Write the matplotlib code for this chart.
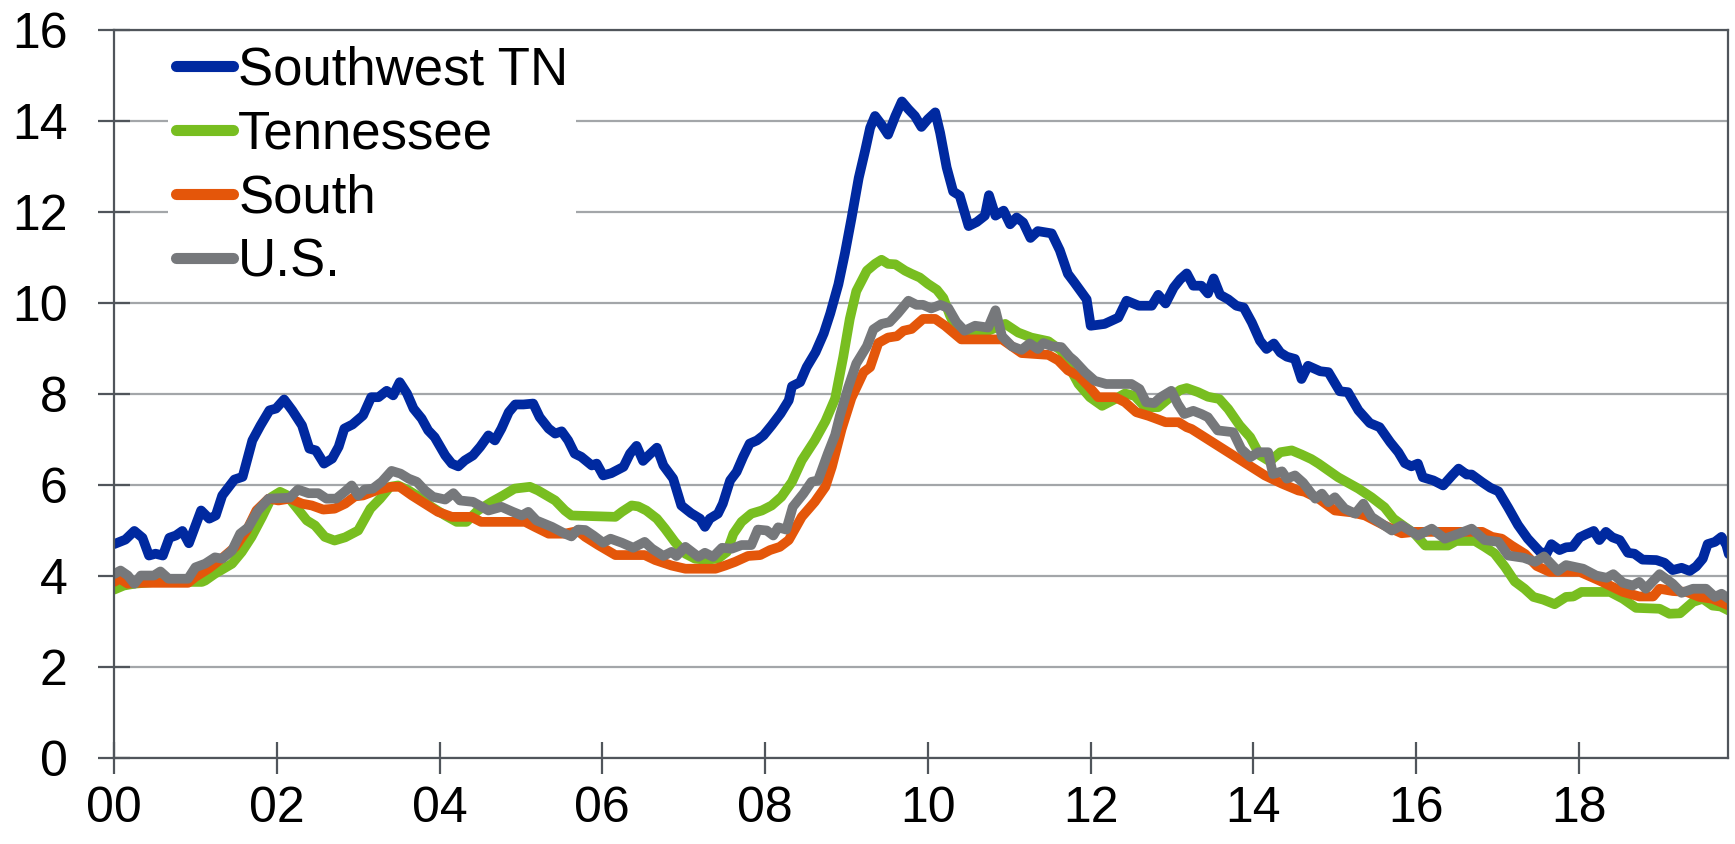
import numpy as np
import matplotlib
matplotlib.use("Agg")
import matplotlib.pyplot as plt

plt.rcParams['font.family'] = ['Liberation Sans', 'DejaVu Sans']

# years since Jan 2000 and values
sw_t = [0.00, 0.14, 0.25, 0.35, 0.43, 0.51, 0.60, 0.68, 0.76, 0.84, 0.92, 1.07, 1.17, 1.25, 1.33,
        1.48, 1.58, 1.70, 1.80, 1.91, 1.99, 2.09, 2.19, 2.31, 2.40, 2.48, 2.58, 2.68, 2.76, 2.83,
        2.93, 3.06, 3.16, 3.25, 3.35, 3.43, 3.51, 3.60, 3.68, 3.78, 3.86, 3.94, 4.07, 4.15, 4.23,
        4.31, 4.41, 4.50, 4.60, 4.68, 4.76, 4.85, 4.93, 5.03, 5.15, 5.23, 5.34, 5.42, 5.50, 5.58,
        5.66, 5.74, 5.87, 5.93, 6.01, 6.11, 6.26, 6.34, 6.42, 6.50, 6.58, 6.67, 6.75, 6.87, 6.97,
        7.09, 7.20, 7.26, 7.32, 7.42, 7.48, 7.57, 7.65, 7.73, 7.81, 7.90, 7.98, 8.08, 8.19, 8.29,
        8.33, 8.43, 8.51, 8.62, 8.72, 8.80, 8.90, 8.98, 9.06, 9.15, 9.23, 9.29, 9.35, 9.43, 9.51,
        9.60, 9.68, 9.76, 9.84, 9.92, 10.00, 10.09, 10.15, 10.23, 10.31, 10.39, 10.50, 10.60, 10.70,
        10.75, 10.83, 10.93, 11.01, 11.09, 11.17, 11.26, 11.35, 11.52, 11.62, 11.72, 11.80, 11.95,
        12.00, 12.17, 12.34, 12.44, 12.59, 12.75, 12.83, 12.92, 13.02, 13.10, 13.18, 13.26, 13.36,
        13.44, 13.51, 13.59, 13.69, 13.79, 13.88, 13.98, 14.08, 14.16, 14.25, 14.33, 14.41, 14.51,
        14.59, 14.67, 14.82, 14.92, 15.06, 15.16, 15.29, 15.43, 15.55, 15.68, 15.78, 15.86, 15.94,
        16.02, 16.08, 16.21, 16.33, 16.44, 16.52, 16.62, 16.68, 16.81, 16.91, 17.01, 17.13, 17.25,
        17.37, 17.52, 17.60, 17.66, 17.76, 17.84, 17.92, 18.01, 18.09, 18.18, 18.25, 18.33, 18.41,
        18.50, 18.60, 18.68, 18.78, 18.95, 19.05, 19.15, 19.26, 19.36, 19.44, 19.52, 19.58, 19.67,
        19.75, 19.81, 19.84]
sw_v = [4.70, 4.80, 4.99, 4.84, 4.45, 4.49, 4.45, 4.84, 4.89, 4.99, 4.72, 5.44, 5.26, 5.33, 5.77,
        6.12, 6.18, 6.98, 7.31, 7.64, 7.68, 7.88, 7.64, 7.31, 6.80, 6.76, 6.47, 6.58, 6.84, 7.24,
        7.33, 7.53, 7.93, 7.93, 8.07, 7.97, 8.26, 8.01, 7.68, 7.46, 7.20, 7.05, 6.65, 6.47, 6.41,
        6.54, 6.65, 6.84, 7.09, 6.98, 7.24, 7.60, 7.77, 7.77, 7.79, 7.49, 7.24, 7.13, 7.18, 6.98,
        6.69, 6.62, 6.43, 6.47, 6.21, 6.26, 6.40, 6.69, 6.86, 6.53, 6.67, 6.82, 6.43, 6.14, 5.55,
        5.38, 5.26, 5.08, 5.26, 5.37, 5.59, 6.10, 6.29, 6.62, 6.91, 6.98, 7.09, 7.31, 7.57, 7.86,
        8.17, 8.26, 8.59, 8.92, 9.33, 9.77, 10.41, 11.09, 11.85, 12.75, 13.36, 13.85, 14.11, 13.92, 13.70,
        14.11, 14.43, 14.26, 14.11, 13.87, 14.04, 14.19, 13.74, 12.98, 12.45, 12.36, 11.69, 11.78, 11.92,
        12.37, 11.92, 12.03, 11.73, 11.88, 11.77, 11.43, 11.58, 11.53, 11.16, 10.64, 10.45, 10.08,
        9.50, 9.54, 9.68, 10.05, 9.94, 9.94, 10.18, 9.99, 10.34, 10.52, 10.65, 10.38, 10.38,
        10.21, 10.54, 10.18, 10.08, 9.94, 9.90, 9.57, 9.17, 8.99, 9.11, 8.91, 8.82, 8.77,
        8.33, 8.62, 8.50, 8.48, 8.06, 8.04, 7.64, 7.36, 7.27, 6.94, 6.72, 6.48, 6.41,
        6.47, 6.17, 6.10, 5.99, 6.21, 6.36, 6.23, 6.23, 6.06, 5.94, 5.86, 5.50, 5.12,
        4.82, 4.53, 4.49, 4.70, 4.57, 4.63, 4.64, 4.85, 4.92, 4.99, 4.79, 4.97, 4.85,
        4.79, 4.51, 4.49, 4.36, 4.35, 4.29, 4.13, 4.18, 4.11, 4.21, 4.38, 4.70, 4.75,
        4.86, 4.68, 4.48]

tn_t = [0.00, 0.12, 0.25, 0.50, 1.08, 1.12, 1.24, 1.45, 1.57, 1.69, 1.82, 1.94, 2.04, 2.12, 2.25,
        2.37, 2.47, 2.59, 2.71, 2.84, 3.00, 3.15, 3.27, 3.39, 3.49, 3.62, 3.72, 3.90, 4.07, 4.21,
        4.33, 4.47, 4.64, 4.78, 4.92, 5.11, 5.21, 5.42, 5.54, 5.62, 6.16, 6.24, 6.36, 6.44, 6.54,
        6.67, 6.77, 6.89, 7.02, 7.14, 7.26, 7.42, 7.53, 7.61, 7.71, 7.83, 7.96, 8.08, 8.20, 8.33,
        8.45, 8.61, 8.74, 8.86, 8.96, 9.04, 9.12, 9.25, 9.35, 9.43, 9.51, 9.60, 9.72, 9.80, 9.90,
        10.00, 10.11, 10.19, 10.27, 10.37, 10.62, 10.74, 10.95, 11.11, 11.27, 11.48, 11.64, 11.75,
        11.85, 11.99, 12.14, 12.30, 12.42, 12.54, 12.67, 12.83, 12.95, 13.10, 13.18, 13.32, 13.44,
        13.58, 13.69, 13.83, 13.96, 14.08, 14.20, 14.33, 14.47, 14.59, 14.71, 14.80, 15.04, 15.29,
        15.45, 15.61, 15.72, 15.86, 15.98, 16.11, 16.39, 16.49, 16.72, 16.84, 16.96, 17.09, 17.21,
        17.33, 17.44, 17.56, 17.70, 17.84, 17.93, 18.03, 18.38, 18.54, 18.70, 18.99, 19.11, 19.24,
        19.40, 19.52, 19.64, 19.74, 19.84]
tn_v = [3.70, 3.79, 3.83, 3.87, 3.87, 3.90, 4.05, 4.27, 4.53, 4.86, 5.30, 5.74, 5.85, 5.78, 5.49,
        5.22, 5.11, 4.86, 4.78, 4.85, 5.00, 5.48, 5.70, 5.96, 5.99, 5.88, 5.77, 5.52, 5.33, 5.19,
        5.19, 5.44, 5.63, 5.77, 5.92, 5.96, 5.88, 5.66, 5.44, 5.33, 5.30, 5.41, 5.55, 5.53, 5.44,
        5.26, 5.04, 4.75, 4.49, 4.38, 4.36, 4.38, 4.53, 4.93, 5.19, 5.37, 5.44, 5.55, 5.74, 6.07,
        6.54, 6.98, 7.40, 7.90, 8.82, 9.65, 10.26, 10.71, 10.86, 10.95, 10.86, 10.85, 10.71, 10.64, 10.56,
        10.42, 10.29, 10.11, 9.73, 9.35, 9.35, 9.39, 9.54, 9.35, 9.24, 9.16, 8.95, 8.55,
        8.22, 7.93, 7.74, 7.89, 8.01, 7.96, 7.71, 7.71, 7.89, 8.09, 8.13, 8.04, 7.94,
        7.89, 7.67, 7.31, 7.05, 6.65, 6.52, 6.72, 6.76, 6.67, 6.57, 6.47, 6.17, 5.92,
        5.73, 5.51, 5.26, 5.08, 4.93, 4.67, 4.67, 4.77, 4.77, 4.64, 4.50, 4.20, 3.88,
        3.72, 3.54, 3.48, 3.38, 3.54, 3.55, 3.65, 3.65, 3.50, 3.30, 3.28, 3.17, 3.18,
        3.43, 3.50, 3.35, 3.33, 3.24]

south_t = [0.00, 0.07, 0.17, 0.25, 0.91, 1.00, 1.16, 1.32, 1.49, 1.63, 1.75, 1.90, 2.02, 2.16, 2.31,
           2.43, 2.57, 2.71, 2.84, 2.96, 3.06, 3.25, 3.41, 3.51, 3.66, 3.82, 3.98, 4.15, 4.39, 4.51,
           5.05, 5.17, 5.34, 5.54, 5.70, 5.79, 5.95, 6.16, 6.52, 6.65, 6.85, 7.02, 7.39, 7.51, 7.63,
           7.79, 7.94, 8.06, 8.18, 8.29, 8.45, 8.61, 8.74, 8.82, 8.94, 9.06, 9.21, 9.29, 9.39, 9.51,
           9.62, 9.70, 9.80, 9.94, 10.09, 10.21, 10.41, 10.91, 11.15, 11.48, 11.60, 11.72, 11.85,
           11.97, 12.09, 12.30, 12.42, 12.56, 12.71, 12.92, 13.08, 13.18, 13.24, 14.14, 14.35, 14.55,
           14.63, 14.80, 15.00, 15.20, 15.37, 15.61, 15.82, 15.98, 16.27, 16.81, 16.93, 17.05, 17.17,
           17.34, 17.48, 17.64, 18.01, 18.25, 18.54, 18.74, 18.91, 18.99, 19.15, 19.32, 19.48, 19.64,
           19.84]
south_v = [3.87, 3.94, 3.83, 3.85, 3.85, 3.98, 4.16, 4.38, 4.64, 5.00, 5.44, 5.70, 5.66, 5.70, 5.59,
           5.55, 5.46, 5.48, 5.59, 5.75, 5.77, 5.90, 5.96, 5.96, 5.77, 5.59, 5.41, 5.30, 5.30, 5.19,
           5.19, 5.08, 4.93, 4.93, 4.99, 4.86, 4.68, 4.46, 4.46, 4.35, 4.23, 4.16, 4.16, 4.23, 4.31,
           4.44, 4.46, 4.57, 4.64, 4.79, 5.30, 5.63, 5.96, 6.40, 7.23, 7.91, 8.48, 8.59, 9.12, 9.24,
           9.27, 9.39, 9.43, 9.65, 9.65, 9.50, 9.20, 9.20, 8.90, 8.86, 8.74, 8.52, 8.40,
           8.18, 7.93, 7.93, 7.82, 7.60, 7.52, 7.38, 7.38, 7.27, 7.23, 6.21, 6.03, 5.88,
           5.85, 5.70, 5.44, 5.40, 5.33, 5.11, 4.94, 4.97, 4.97, 4.97, 4.86, 4.82, 4.67,
           4.48, 4.22, 4.09, 4.09, 3.90, 3.65, 3.55, 3.55, 3.72, 3.67, 3.65, 3.54, 3.50,
           3.35]

us_t = [0.00, 0.08, 0.17, 0.25, 0.33, 0.49, 0.57, 0.67, 0.91, 1.00, 1.12, 1.24, 1.33, 1.45, 1.55,
        1.65, 1.77, 1.90, 2.02, 2.16, 2.26, 2.39, 2.51, 2.61, 2.73, 2.84, 2.92, 3.00, 3.08, 3.18,
        3.29, 3.41, 3.52, 3.62, 3.72, 3.82, 3.92, 4.07, 4.17, 4.25, 4.41, 4.60, 4.76, 4.90, 5.01,
        5.09, 5.19, 5.38, 5.54, 5.62, 5.70, 5.79, 5.89, 6.01, 6.10, 6.24, 6.38, 6.52, 6.61, 6.75,
        6.85, 6.91, 7.02, 7.18, 7.26, 7.36, 7.47, 7.59, 7.71, 7.83, 7.91, 8.02, 8.10, 8.16, 8.26,
        8.34, 8.47, 8.57, 8.65, 8.77, 8.86, 8.92, 9.02, 9.12, 9.25, 9.33, 9.43, 9.53, 9.63, 9.76,
        9.86, 9.94, 10.04, 10.15, 10.25, 10.35, 10.45, 10.58, 10.74, 10.83, 10.91, 11.03, 11.15,
        11.25, 11.35, 11.42, 11.52, 11.64, 11.74, 11.80, 11.93, 12.05, 12.19, 12.50, 12.60, 12.68,
        12.78, 12.86, 12.99, 13.07, 13.15, 13.26, 13.36, 13.44, 13.56, 13.75, 13.85, 13.96, 14.06,
        14.18, 14.24, 14.35, 14.41, 14.51, 14.61, 14.76, 14.84, 14.92, 15.00, 15.12, 15.25, 15.35,
        15.45, 15.70, 15.82, 16.02, 16.19, 16.35, 16.52, 16.68, 16.84, 17.01, 17.13, 17.32, 17.46,
        17.57, 17.74, 17.84, 18.05, 18.21, 18.34, 18.42, 18.54, 18.66, 18.74, 18.82, 18.99, 19.15,
        19.26, 19.40, 19.56, 19.67, 19.75, 19.84]
us_v = [4.04, 4.12, 4.01, 3.83, 4.01, 4.01, 4.10, 3.94, 3.94, 4.19, 4.27, 4.41, 4.38, 4.56, 4.93,
        5.07, 5.44, 5.70, 5.71, 5.72, 5.90, 5.82, 5.82, 5.70, 5.70, 5.86, 5.99, 5.77, 5.90, 5.92,
        6.07, 6.31, 6.25, 6.14, 6.07, 5.88, 5.74, 5.68, 5.82, 5.66, 5.63, 5.44, 5.52, 5.41, 5.33,
        5.41, 5.22, 5.08, 4.93, 4.87, 5.02, 5.01, 4.89, 4.73, 4.82, 4.73, 4.62, 4.75, 4.60, 4.44,
        4.53, 4.44, 4.64, 4.42, 4.51, 4.42, 4.62, 4.60, 4.68, 4.68, 5.02, 5.00, 4.89, 5.07, 5.02,
        5.52, 5.81, 6.07, 6.10, 6.69, 7.10, 7.53, 8.14, 8.67, 9.05, 9.42, 9.54, 9.58, 9.77, 10.05,
        9.96, 9.96, 9.88, 9.96, 9.89, 9.58, 9.39, 9.50, 9.46, 9.84, 9.27, 9.05, 8.97,
        9.11, 8.99, 9.12, 9.05, 9.03, 8.82, 8.73, 8.48, 8.29, 8.22, 8.22, 8.11, 7.82,
        7.80, 7.93, 8.07, 7.78, 7.56, 7.63, 7.56, 7.49, 7.20, 7.16, 6.79, 6.61, 6.72,
        6.72, 6.24, 6.30, 6.14, 6.21, 6.05, 5.70, 5.81, 5.62, 5.73, 5.48, 5.37, 5.59,
        5.30, 5.00, 5.11, 4.89, 5.04, 4.82, 4.93, 5.04, 4.79, 4.75, 4.45, 4.40, 4.31,
        4.43, 4.11, 4.24, 4.16, 4.01, 3.96, 4.04, 3.85, 3.79, 3.87, 3.72, 4.04, 3.83,
        3.63, 3.72, 3.72, 3.54, 3.61, 3.50]

year_ticks = [0, 2, 4, 6, 8, 10, 12, 14, 16, 18]
year_labels = ['00', '02', '04', '06', '08', '10', '12', '14', '16', '18']

W, H = 1735, 844
fig = plt.figure(figsize=(W / 100, H / 100), dpi=100)
ax = fig.add_axes([114 / W, 1 - 758 / H, 1614 / W, 728 / H])

lw = 7
kw = dict(lw=lw, solid_joinstyle='round', solid_capstyle='round')
ax.plot(sw_t, sw_v, color='#0029A0', label='Southwest TN', **kw)
ax.plot(tn_t, tn_v, color='#78BE20', label='Tennessee', **kw)
ax.plot(south_t, south_v, color='#E4560A', label='South', **kw)
ax.plot(us_t, us_v, color='#76787B', label='U.S.', **kw)

ax.set_xlim(0, 19.83)
ax.set_ylim(0, 16)
ax.set_yticks(np.arange(0, 17, 2))
ax.set_xticks(year_ticks)
ax.set_xticklabels(year_labels)

axis_col = '#50555b'
for s in ax.spines.values():
    s.set_color(axis_col)
    s.set_linewidth(1.6)
ax.grid(axis='y', color='#a3a6a9', lw=1.6)
ax.set_axisbelow(True)
ax.tick_params(axis='both', direction='inout', length=23, width=1.6, color=axis_col,
               labelsize=36, labelcolor='black')
ax.tick_params(axis='y', pad=22)
ax.tick_params(axis='x', pad=9)

leg = ax.legend(loc='upper left', bbox_to_anchor=(168 / W, 1 - 38 / H),
                bbox_transform=fig.transFigure, fontsize=38, frameon=True,
                handlelength=1.08, handletextpad=0.1, labelspacing=0.26,
                borderpad=0.15, borderaxespad=0)
leg.get_frame().set_facecolor('white')
leg.get_frame().set_edgecolor('none')
leg.get_frame().set_alpha(1)
leg.get_frame().set_boxstyle('square', pad=0)
for h in leg.get_lines():
    h.set_linewidth(8)

fig.savefig('out.png', dpi=100)
